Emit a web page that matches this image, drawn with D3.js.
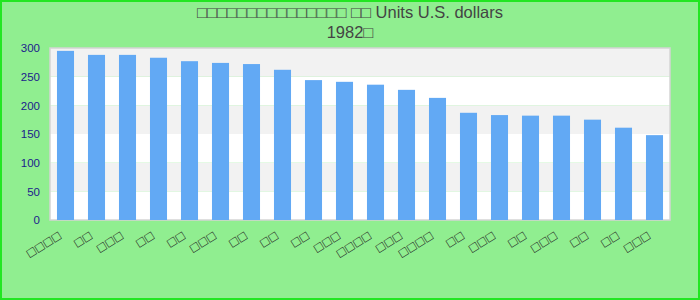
<!DOCTYPE html>
<html><head><meta charset="utf-8">
<script src="https://cdn.jsdelivr.net/npm/d3@7/dist/d3.min.js"></script>
<style>body{margin:0;padding:0;} svg{display:block;}</style>
</head><body>
<script>
const titleLine1 = "□□□□□□□□□□□□□□□ □□ Units U.S. dollars";
const titleLine2 = "1982□";
const categories = ["□□□□","□□","□□□","□□","□□","□□□","□□","□□","□□","□□□","□□□□","□□□","□□□□","□□","□□□","□□","□□□","□□","□□","□□□"];
const values = [295,288,288,283,277,274,272,262,244,241,236,227,213,187,183,182,182,175,161,148];
const yTicks = [0,50,100,150,200,250,300];

const W = 700, H = 300;
const m = {left:50, right:30, top:48, bottom:80};
const svg = d3.select("body").append("svg").attr("width",W).attr("height",H);
svg.append("rect").attr("x",1).attr("y",1).attr("width",W-2).attr("height",H-2)
  .attr("fill","#90ee90").attr("stroke","#22e622").attr("stroke-width",2);

const x = d3.scaleBand().domain(d3.range(categories.length)).range([m.left, W-m.right]).paddingInner(0.45).paddingOuter(0.225);
const y = d3.scaleLinear().domain([0,300]).range([H-m.bottom, m.top]);

const g = svg.append("g");
for (let i=0;i<yTicks.length-1;i++){
  g.append("rect").attr("x",m.left).attr("width",W-m.right-m.left)
   .attr("y",y(yTicks[i+1])).attr("height",y(yTicks[i])-y(yTicks[i+1]))
   .attr("fill", i%2===0 ? "#ffffff" : "#f2f2f2");
}
g.append("rect").attr("x",m.left).attr("y",m.top).attr("width",W-m.right-m.left).attr("height",H-m.bottom-m.top)
  .attr("fill","none").attr("stroke","#d4d4d4").attr("stroke-width",1.5);

g.selectAll(".bar").data(values).join("rect").attr("class","bar")
  .attr("x",(d,i)=>x(i)).attr("width",x.bandwidth())
  .attr("y",d=>y(d)).attr("height",d=>y(0)-y(d)).attr("fill","#62a9f4");

const ya = svg.append("g").attr("transform",`translate(${m.left},0)`)
  .call(d3.axisLeft(y).tickValues(yTicks).tickSize(0).tickPadding(10));
ya.select(".domain").remove();
ya.selectAll("text").attr("fill","#1c1c8c").attr("font-family","Liberation Sans, Arial, sans-serif").attr("font-size",11.5);

const xa = svg.append("g").attr("transform",`translate(0,${H-m.bottom})`)
  .call(d3.axisBottom(x).tickFormat(i=>categories[i]).tickSize(0));
xa.select(".domain").remove();
xa.selectAll("text").attr("fill","#222").attr("font-family","Liberation Sans, Arial, sans-serif").attr("font-size",13.5)
  .attr("letter-spacing","1.5px")
  .attr("text-anchor","end").attr("dy",0)
  .attr("transform","translate(-4,15) rotate(-32)");

svg.append("text").attr("x",W/2).attr("y",18).attr("text-anchor","middle")
  .attr("font-family","Liberation Sans, Arial, sans-serif").attr("font-size",16.5).attr("fill","#444").text(titleLine1);
svg.append("text").attr("x",W/2).attr("y",38).attr("text-anchor","middle")
  .attr("font-family","Liberation Sans, Arial, sans-serif").attr("font-size",16.5).attr("fill","#444").text(titleLine2);
</script>
</body></html>
